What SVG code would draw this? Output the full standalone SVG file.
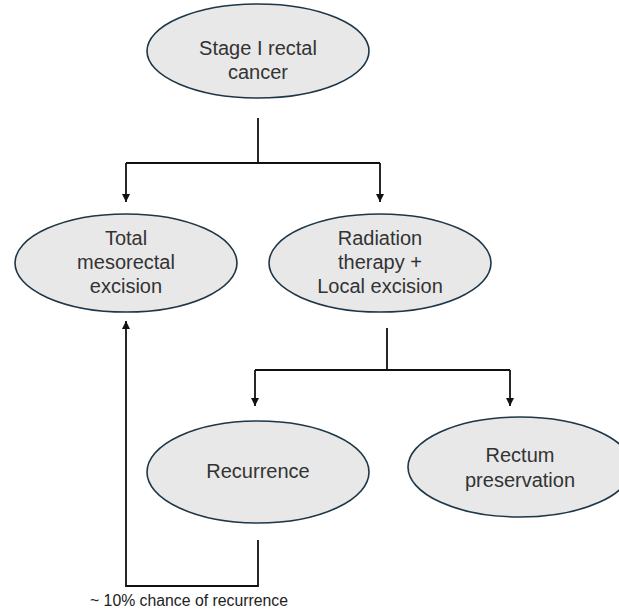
<svg xmlns="http://www.w3.org/2000/svg" width="619" height="609" viewBox="0 0 619 609">
<style>
.node ellipse{fill:#e8e8e8;stroke:#1e3646;stroke-width:1.6}
.node text{font-family:"Liberation Sans",Arial,sans-serif;font-size:20px;fill:#333;text-anchor:middle}
.conn path{fill:none;stroke:#111;stroke-width:1.8}
.lbl{font-family:"Liberation Sans",Arial,sans-serif;font-size:15.8px;fill:#222}
</style>
<defs>
<marker id="ah" viewBox="0 0 10 10" refX="10" refY="5" markerWidth="10" markerHeight="8" markerUnits="userSpaceOnUse" orient="auto">
<path d="M0,0 L10,5 L0,10 z" fill="#111"/>
</marker>
</defs>
<rect width="619" height="609" fill="#fff"/>
<g class="conn">
<path d="M258,118 V163 M126,163 H380"/>
<path d="M126,163 V202" marker-end="url(#ah)"/>
<path d="M380,163 V202" marker-end="url(#ah)"/>
<path d="M387,328 V370 M255,370 H510"/>
<path d="M255,370 V406" marker-end="url(#ah)"/>
<path d="M510,370 V406" marker-end="url(#ah)"/>
<path d="M258,540 V586 H126 V321" marker-end="url(#ah)"/>
</g>
<g id="stage" class="node">
<ellipse cx="258" cy="51" rx="111" ry="47"/>
<text x="258" y="55">Stage I rectal</text>
<text x="258" y="79">cancer</text>
</g>
<g id="tme" class="node">
<ellipse cx="126" cy="263" rx="111" ry="49"/>
<text x="126" y="245">Total</text>
<text x="126" y="269">mesorectal</text>
<text x="126" y="293">excision</text>
</g>
<g id="rt" class="node">
<ellipse cx="380" cy="263" rx="111" ry="49"/>
<text x="380" y="245">Radiation</text>
<text x="380" y="269">therapy +</text>
<text x="380" y="293">Local excision</text>
</g>
<g id="recurrence" class="node">
<ellipse cx="258" cy="472" rx="111" ry="51"/>
<text x="258" y="478">Recurrence</text>
</g>
<g id="preservation" class="node">
<ellipse cx="520" cy="467" rx="112" ry="50"/>
<text x="520" y="462">Rectum</text>
<text x="520" y="487">preservation</text>
</g>
<text class="lbl" x="90" y="606">~ 10% chance of recurrence</text>
</svg>
